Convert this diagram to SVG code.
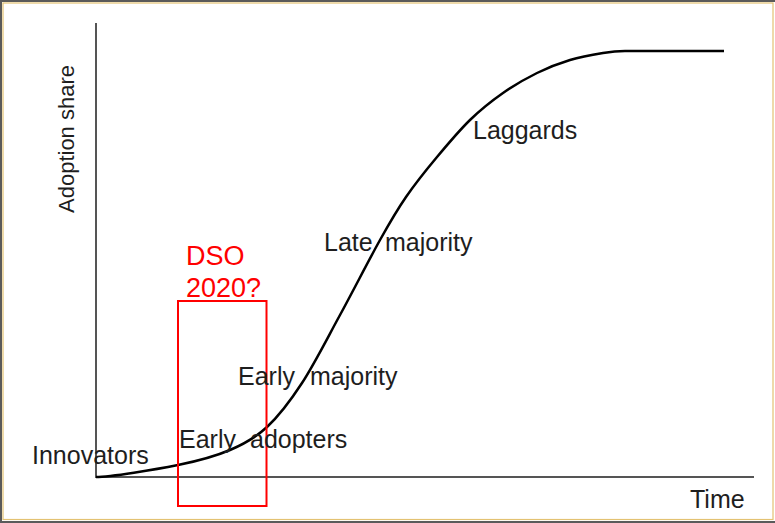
<svg xmlns="http://www.w3.org/2000/svg" width="775" height="523" viewBox="0 0 775 523">
  <style>
    .lbl { font-family: "Liberation Sans", Arial, sans-serif; font-size: 25px; fill: #1e1e1e; }
    .axis { stroke: #555; stroke-width: 2; fill: none; }
    .red { font-family: "Liberation Sans", Arial, sans-serif; font-size: 27px; fill: #ff0000; }
  </style>
  <rect x="0" y="0" width="775" height="523" fill="#ffffff"/>
  <g id="frame">
    <rect x="1" y="1" width="778" height="521" fill="none" stroke="#5a5a5a" stroke-width="2"/>
    <rect x="3" y="3" width="770" height="516.5" fill="none" stroke="#e3c272" stroke-width="1.2"/>
  </g>
  <g id="axes">
    <path class="axis" d="M96 23 V477 H754"/>
  </g>
  <g id="curve">
    <path fill="none" stroke="#000" stroke-width="2.5" d="M96 477 C110 477 155.7 469.5 178 465 C200.3 460.5 215.2 456.3 230 450 C244.8 443.7 255 438.2 267 427 C279 415.8 289.8 401.7 302 383 C314.2 364.3 327 338.8 340 315 C353 291.2 369 259.7 380 240 C391 220.3 396.5 210.8 406 197 C415.5 183.2 426.3 169.8 437 157 C447.7 144.2 459 130.7 470 120 C481 109.3 491.8 100.8 503 93 C514.2 85.2 525.8 78.5 537 73 C548.2 67.5 559 63.3 570 60 C581 56.7 593.8 54.5 603 53 C612.2 51.5 619 51 625 51 L724 51"/>
  </g>
  <g id="dso-box">
    <rect x="178" y="301" width="88.5" height="205" fill="none" stroke="#ff0000" stroke-width="2"/>
    <text class="red" x="186" y="265">DSO</text>
    <text class="red" x="186" y="297">2020?</text>
  </g>
  <g id="labels">
    <text class="lbl" transform="translate(74,139) rotate(-90)" text-anchor="middle" style="font-size:22px">Adoption share</text>
    <text class="lbl" x="32" y="464">Innovators</text>
    <text class="lbl"><tspan x="179" y="448">Early</tspan> <tspan x="250" y="448">adopters</tspan></text>
    <text class="lbl"><tspan x="238" y="385">Early</tspan> <tspan x="310" y="385">majority</tspan></text>
    <text class="lbl"><tspan x="324" y="251">Late</tspan> <tspan x="385" y="251">majority</tspan></text>
    <text class="lbl" x="473" y="139">Laggards</text>
    <text class="lbl" x="690" y="508">Time</text>
  </g>
</svg>
